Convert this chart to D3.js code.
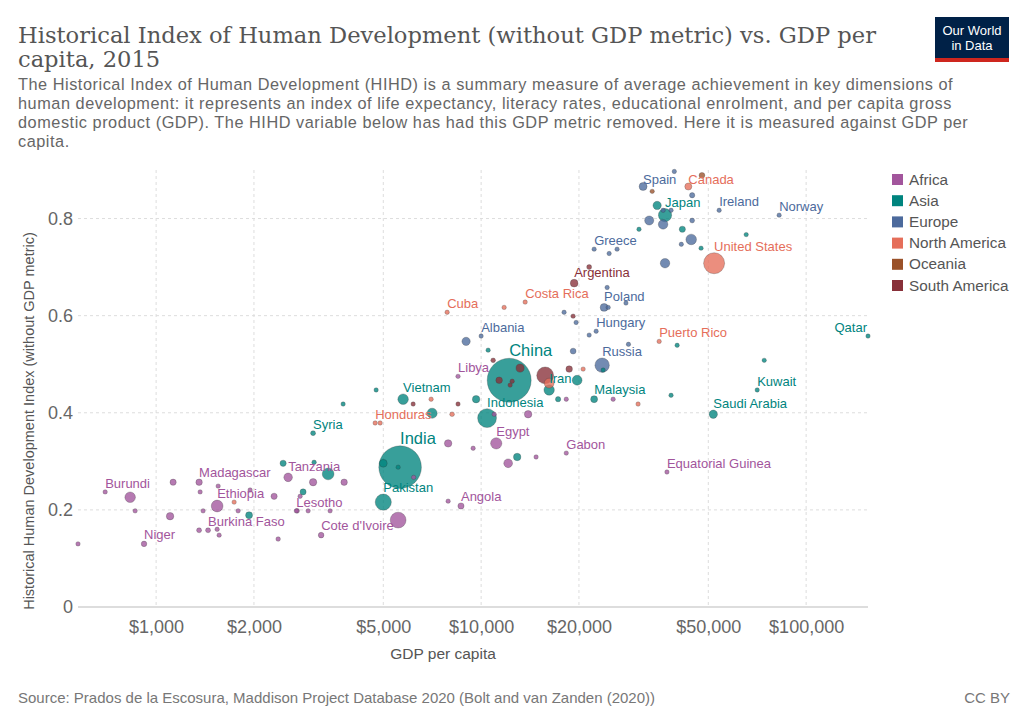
<!DOCTYPE html>
<html>
<head>
<meta charset="utf-8">
<script src="https://cdn.jsdelivr.net/npm/d3@7"></script>
<style>
  body { margin: 0; background: #fff; }
  svg { display: block; }
  text { font-family: "Liberation Sans", Arial, sans-serif; }
</style>
</head>
<body>
<div id="chart"></div>
<script>
// rows: [country, GDP per capita ($), HIHD without GDP, population (millions)]
const africa = [
  ["Central African Republic", 575, 0.130, 5],
  ["Burundi", 697, 0.237, 11],
  ["Democratic Republic of Congo", 832, 0.226, 80],
  ["Liberia", 862, 0.198, 5],
  ["Niger", 918, 0.130, 22],
  ["Mozambique", 1128, 0.257, 28],
  ["Uganda", 1104, 0.187, 40],
  ["Madagascar", 1356, 0.257, 30],
  ["Rwanda", 1366, 0.237, 11],
  ["Sierra Leone", 1395, 0.198, 7],
  ["Mali", 1356, 0.158, 18],
  ["Burkina Faso", 1445, 0.158, 18],
  ["Chad", 1541, 0.160, 14],
  ["Guinea", 1563, 0.148, 12],
  ["Ethiopia", 1541, 0.208, 100],
  ["Togo", 1552, 0.249, 7],
  ["Gambia", 1788, 0.198, 2],
  ["Benin", 1946, 0.241, 10],
  ["Ghana", 2307, 0.228, 28],
  ["Senegal", 2374, 0.140, 15],
  ["Tanzania", 2548, 0.267, 53],
  ["Zambia", 2716, 0.198, 16],
  ["Djibouti", 2774, 0.228, 1],
  ["Sudan", 3041, 0.257, 39],
  ["Cameroon", 3789, 0.257, 30],
  ["Lesotho", 2700, 0.198, 2],
  ["Eritrea", 2936, 0.198, 5],
  ["Mauritania", 3430, 0.198, 4],
  ["Cote d'Ivoire", 3219, 0.148, 23],
  ["Nigeria", 5555, 0.179, 181],
  ["Congo", 6200, 0.267, 5],
  ["Morocco", 7916, 0.337, 40],
  ["Namibia", 9450, 0.327, 2],
  ["Swaziland", 7916, 0.218, 1],
  ["Angola", 8670, 0.208, 28],
  ["Libya", 8490, 0.475, 6],
  ["Tunisia", 10970, 0.397, 11],
  ["Egypt", 11130, 0.337, 92],
  ["South Africa", 12110, 0.296, 55],
  ["Botswana", 14760, 0.309, 2],
  ["Algeria", 13950, 0.397, 40],
  ["Gabon", 18280, 0.317, 2],
  ["Mauritius", 18280, 0.428, 1.3],
  ["Seychelles", 25480, 0.428, 0.1],
  ["Equatorial Guinea", 37300, 0.278, 1]
];

const asia = [
  ["Afghanistan", 1932, 0.189, 35],
  ["Nepal", 2459, 0.296, 28],
  ["Cambodia", 3063, 0.298, 15],
  ["Bangladesh", 3383, 0.274, 100],
  ["Yemen", 2833, 0.237, 27],
  ["Syria", 3041, 0.358, 18],
  ["Kyrgyzstan", 3762, 0.418, 6],
  ["Mongolia", 4753, 0.447, 3],
  ["Vietnam", 5754, 0.428, 80],
  ["Myanmar", 5000, 0.296, 45],
  ["India", 5633, 0.288, 1311],
  ["Bhutan", 5555, 0.288, 1],
  ["Pakistan", 5000, 0.216, 189],
  ["Philippines", 7066, 0.399, 75],
  ["Uzbekistan", 9650, 0.428, 40],
  ["Jordan", 10510, 0.529, 9],
  ["China", 12200, 0.467, 1397],
  ["Indonesia", 10430, 0.389, 258],
  ["Iran", 16190, 0.447, 79],
  ["Turkey", 19740, 0.467, 70],
  ["Kazakhstan", 17250, 0.428, 20],
  ["Malaysia", 22270, 0.428, 35],
  ["Lebanon", 23740, 0.488, 6],
  ["Oman", 40100, 0.539, 4],
  ["Bahrain", 38400, 0.436, 1.4],
  ["United Arab Emirates", 74300, 0.508, 9],
  ["Kuwait", 70700, 0.447, 4],
  ["Saudi Arabia", 51800, 0.397, 50],
  ["Qatar", 155000, 0.558, 2.5],
  ["South Korea", 34800, 0.827, 50],
  ["Japan", 36800, 0.807, 127],
  ["Israel", 30600, 0.778, 8],
  ["Taiwan", 41600, 0.778, 28],
  ["Hong Kong", 47500, 0.739, 7],
  ["Singapore", 65400, 0.767, 5.5],
  ["Iraq", 12910, 0.309, 40]
];

const europe = [
  ["Ukraine", 8990, 0.547, 50],
  ["Albania", 10000, 0.558, 3],
  ["Romania", 19190, 0.527, 25],
  ["Serbia", 18000, 0.607, 7],
  ["Macedonia", 19600, 0.586, 2],
  ["Bulgaria", 21500, 0.560, 7],
  ["Hungary", 22590, 0.568, 10],
  ["Latvia", 28400, 0.541, 2],
  ["Russia", 23570, 0.498, 150],
  ["Poland", 23900, 0.617, 45],
  ["Slovakia", 24600, 0.617, 5],
  ["Croatia", 24420, 0.658, 4],
  ["Lithuania", 27900, 0.626, 3],
  ["Greece", 22270, 0.737, 11],
  ["Portugal", 24770, 0.728, 14],
  ["Slovenia", 26200, 0.737, 2],
  ["United Kingdom", 36800, 0.708, 65],
  ["Spain", 31500, 0.866, 46],
  ["Switzerland", 39300, 0.897, 8],
  ["Sweden", 44600, 0.848, 20],
  ["Denmark", 36300, 0.817, 6],
  ["Finland", 38400, 0.817, 5.5],
  ["Italy", 32900, 0.796, 60],
  ["France", 36300, 0.788, 66],
  ["Netherlands", 44600, 0.796, 17],
  ["Ireland", 54000, 0.817, 4.7],
  ["Norway", 82600, 0.807, 5.2],
  ["Germany", 44300, 0.757, 81],
  ["Belgium", 41300, 0.747, 11]
];

const northAmerica = [
  ["Haiti", 1738, 0.216, 11],
  ["Honduras", 4720, 0.379, 9],
  ["Nicaragua", 4889, 0.379, 6],
  ["El Salvador", 7016, 0.428, 6],
  ["Guatemala", 8140, 0.397, 16],
  ["Cuba", 7861, 0.607, 11],
  ["Jamaica", 11770, 0.617, 3],
  ["Costa Rica", 13660, 0.628, 5],
  ["Mexico", 16190, 0.461, 70],
  ["Dominican Republic", 20600, 0.490, 10],
  ["Trinidad and Tobago", 30400, 0.418, 1.4],
  ["Puerto Rico", 35300, 0.547, 3.5],
  ["Canada", 43400, 0.866, 36],
  ["United States", 52100, 0.708, 320]
];

const oceania = [
  ["Australia", 47800, 0.889, 24],
  ["New Zealand", 33600, 0.856, 4.6]
];

const southAmerica = [
  ["Paraguay", 6178, 0.418, 7],
  ["Bolivia", 8490, 0.418, 11],
  ["Ecuador", 10890, 0.508, 16],
  ["Colombia", 13180, 0.492, 48],
  ["Peru", 11360, 0.467, 31],
  ["Guyana", 12460, 0.465, 1],
  ["Suriname", 12280, 0.457, 1],
  ["Brazil", 15740, 0.477, 206],
  ["Venezuela", 18660, 0.490, 31],
  ["Uruguay", 19190, 0.599, 3.4],
  ["Argentina", 19330, 0.667, 43],
  ["Chile", 21500, 0.700, 18]
];

const continents = ["Africa", "Asia", "Europe", "North America", "Oceania", "South America"];
const continentColors = ["#a2559c", "#00847e", "#4c6a9c", "#e56e5a", "#9a5129", "#883039"];
const continentRows = [africa, asia, europe, northAmerica, oceania, southAmerica];

const labelledCountries = [
  "Burundi", "Niger", "Madagascar", "Ethiopia", "Burkina Faso", "Tanzania", "Lesotho",
  "Cote d'Ivoire", "Angola", "Pakistan", "India", "Syria", "Honduras", "Vietnam", "Libya",
  "Cuba", "Albania", "China", "Indonesia", "Egypt", "Gabon", "Equatorial Guinea", "Iran",
  "Malaysia", "Russia", "Hungary", "Poland", "Costa Rica", "Argentina", "Greece",
  "Puerto Rico", "Saudi Arabia", "Kuwait", "Qatar", "United States", "Japan", "Spain",
  "Canada", "Ireland", "Norway"
];

const xTicks = [1000, 2000, 5000, 10000, 20000, 50000, 100000];
const yTicks = [0, 0.2, 0.4, 0.6, 0.8];

const titleLines = [
  "Historical Index of Human Development (without GDP metric) vs. GDP per",
  "capita, 2015"
];
const subtitleLines = [
  "The Historical Index of Human Development (HIHD) is a summary measure of average achievement in key dimensions of",
  "human development: it represents an index of life expectancy, literacy rates, educational enrolment, and per capita gross",
  "domestic product (GDP). The HIHD variable below has had this GDP metric removed. Here it is measured against GDP per",
  "capita."
];
const sourceText = "Source: Prados de la Escosura, Maddison Project Database 2020 (Bolt and van Zanden (2020))";

// ---------- 布局 ----------
const width = 1028, height = 725;
const plot = { left: 78, right: 868, top: 170, bottom: 607 };

const svg = d3.select('#chart').append('svg')
  .attr('width', width)
  .attr('height', height);

// 合并所有数据点
const points = [];
continentRows.forEach((rows, i) => {
  rows.forEach(r => points.push({
    name: r[0], gdp: r[1], hihd: r[2], pop: r[3],
    continent: continents[i], color: continentColors[i]
  }));
});

const x = d3.scaleLog()
  .domain(d3.extent(points, d => d.gdp))
  .range([plot.left, plot.right]);
const y = d3.scaleLinear()
  .domain([0, 0.9])
  .range([plot.bottom, plot.top]);
const size = d3.scaleSqrt().domain([0, 1400]).range([0, 22]);
const radius = d => Math.max(2.2, size(d.pop));

// ---------- 标题 ----------
titleLines.forEach((t, i) => {
  svg.append('text')
    .attr('x', 18).attr('y', 43 + i * 24)
    .style('font-family', '"DejaVu Serif", Georgia, serif')
    .style('font-size', '22.6px')
    .attr('fill', '#555')
    .text(t);
});

// 副标题：按参考图第一行宽度微调字距
const subG = svg.append('g');
subtitleLines.forEach((t, i) => {
  subG.append('text')
    .attr('x', 18).attr('y', 90 + i * 19)
    .style('font-size', '16.3px')
    .attr('fill', '#666')
    .text(t);
});
const firstSub = subG.select('text').node();
const extra = (935 - firstSub.getComputedTextLength()) / subtitleLines[0].length;
if (extra > 0) subG.selectAll('text').style('letter-spacing', extra.toFixed(2) + 'px');

// logo
const logo = svg.append('g').attr('transform', 'translate(935,17)');
logo.append('rect').attr('width', 74).attr('height', 45).attr('fill', '#002147');
logo.append('rect').attr('y', 41).attr('width', 74).attr('height', 4).attr('fill', '#ce261e');
['Our World', 'in Data'].forEach((t, i) => {
  logo.append('text')
    .attr('x', 37).attr('y', 18 + i * 15)
    .attr('text-anchor', 'middle')
    .style('font-size', '13px')
    .attr('fill', '#fff')
    .text(t);
});

// ---------- 网格 ----------
const grid = svg.append('g');
grid.selectAll('line.hgrid')
  .data(yTicks.filter(v => v > 0))
  .join('line')
  .attr('class', 'hgrid')
  .attr('x1', plot.left).attr('x2', plot.right)
  .attr('y1', d => y(d)).attr('y2', d => y(d))
  .attr('stroke', '#ddd').attr('stroke-dasharray', '3,3');
grid.selectAll('line.vgrid')
  .data(xTicks)
  .join('line')
  .attr('class', 'vgrid')
  .attr('x1', d => x(d)).attr('x2', d => x(d))
  .attr('y1', plot.top).attr('y2', plot.bottom)
  .attr('stroke', '#ddd').attr('stroke-dasharray', '3,3');
grid.append('line')
  .attr('x1', plot.left).attr('x2', plot.right)
  .attr('y1', y(0)).attr('y2', y(0))
  .attr('stroke', '#bbb').attr('stroke-width', 1.2);

// ---------- 坐标轴 ----------
const xAxis = svg.append('g')
  .attr('transform', `translate(0,${plot.bottom})`)
  .call(d3.axisBottom(x)
    .tickValues(xTicks)
    .tickFormat(d => '$' + d3.format(',')(d))
    .tickSize(0)
    .tickPadding(13));
const yAxis = svg.append('g')
  .attr('transform', `translate(${plot.left - 2},0)`)
  .call(d3.axisLeft(y)
    .tickValues(yTicks)
    .tickFormat(d => d === 0 ? '0' : d3.format('.1f')(d))
    .tickSize(0)
    .tickPadding(3));
[xAxis, yAxis].forEach(a => {
  a.select('.domain').remove();
  a.selectAll('text')
    .style('font-family', '"Liberation Sans", Arial, sans-serif')
    .style('font-size', '18px')
    .attr('fill', '#666');
});

svg.append('text')
  .attr('x', 443).attr('y', 659)
  .attr('text-anchor', 'middle')
  .style('font-size', '15.5px')
  .attr('fill', '#555')
  .text('GDP per capita');
svg.append('text')
  .attr('transform', 'translate(34,421) rotate(-90)')
  .attr('text-anchor', 'middle')
  .style('font-size', '14.5px')
  .attr('fill', '#555')
  .text('Historical Human Development Index (without GDP metric)');

// ---------- 散点 ----------
const sorted = points.slice().sort((a, b) => b.pop - a.pop);
svg.append('g')
  .selectAll('circle')
  .data(sorted)
  .join('circle')
  .attr('cx', d => x(d.gdp))
  .attr('cy', d => y(d.hihd))
  .attr('r', radius)
  .attr('fill', d => d.color)
  .attr('fill-opacity', 0.78)
  .attr('stroke', '#333')
  .attr('stroke-opacity', 0.45)
  .attr('stroke-width', 0.6);

// ---------- 标签 ----------
const labelG = svg.append('g');
labelledCountries.forEach(name => {
  const d = points.find(p => p.name === name);
  if (!d) return;
  const cx = x(d.gdp), cy = y(d.hihd), r = radius(d);
  const fs = r > 15 ? 16.5 : 13;
  const t = labelG.append('text')
    .attr('x', cx)
    .attr('y', Math.max(cy - r - 2, plot.top + 14))
    .style('font-size', fs + 'px')
    .attr('fill', d.color)
    .text(name);
  if (cx + t.node().getComputedTextLength() > plot.right + 2) {
    t.attr('text-anchor', 'end').attr('x', cx - 1);
  }
});

// ---------- 图例 ----------
const legend = svg.append('g').attr('transform', 'translate(892,174)');
continents.forEach((c, i) => {
  const row = legend.append('g').attr('transform', `translate(0,${i * 21.2})`);
  row.append('rect').attr('width', 11).attr('height', 11).attr('fill', continentColors[i]);
  row.append('text')
    .attr('x', 17).attr('y', 10.5)
    .style('font-size', '15.3px')
    .attr('fill', '#555')
    .text(c);
});

// ---------- 页脚 ----------
svg.append('text')
  .attr('x', 18).attr('y', 703)
  .style('font-size', '15px')
  .attr('fill', '#777')
  .text(sourceText);
svg.append('text')
  .attr('x', 1010).attr('y', 703)
  .attr('text-anchor', 'end')
  .style('font-size', '15px')
  .attr('fill', '#777')
  .text('CC BY');
</script>
</body>
</html>
